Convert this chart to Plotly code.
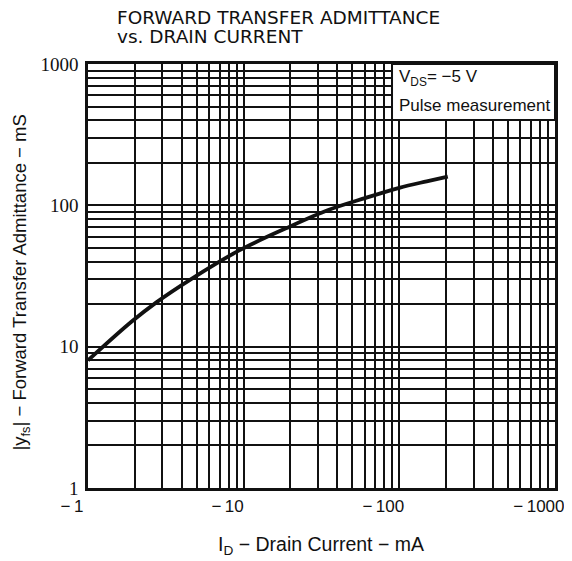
import plotly.graph_objects as go

# Drain current (mA) and forward transfer admittance |yfs| (mS)
drain_current_ma = [-1.0, -1.9, -2.75, -4.6, -9.3, -18.7, -35, -61, -100, -150, -205]
yfs_ms = [8.0, 15.0, 20.6, 30.1, 47.8, 68.8, 92.7, 113, 133, 148, 160]

decades = [1, 10, 100, 1000]
x_tick_labels = ["−\u20091", "−\u200910", "−\u2009100", "−\u20091000"]
y_tick_labels = ["1", "10", "100", "1000"]

# every 1..9 multiple inside each decade gets a gridline, labels only on decades
grid_vals = [d * k for d in decades[:-1] for k in range(1, 10)] + [1000]
x_text = [x_tick_labels[decades.index(v)] if v in decades else "" for v in grid_vals]
y_text = [y_tick_labels[decades.index(v)] if v in decades else "" for v in grid_vals]

INK = "#111111"
SANS = "Liberation Sans, Arial, sans-serif"

fig = go.Figure()
fig.add_trace(go.Scatter(
    x=[-v for v in drain_current_ma], y=yfs_ms, mode="lines",
    line={"color": INK, "width": 3.8, "shape": "spline"}, showlegend=False,
))

axis_common = dict(
    type="log", range=[0, 3.0005], tickmode="array", tickvals=grid_vals,
    showgrid=True, gridcolor=INK, gridwidth=1.6, zeroline=False,
    showline=True, linecolor=INK, linewidth=2.5, mirror=True, ticks="",
    automargin=False, ticklabeloverflow="allow",
)
# labels sit a little left of their gridlines, as in the original
fig.update_xaxes(
    **axis_common, ticktext=x_text, ticklabelstandoff=1, ticklabelshift=-16,
    tickfont={"family": SANS, "size": 17, "color": INK},
)
fig.update_yaxes(
    **axis_common, ticktext=y_text, ticklabelstandoff=3,
    tickfont={"family": "Liberation Serif, Times New Roman, serif", "size": 19, "color": INK},
)

# axis titles
fig.add_annotation(xref="paper", yref="paper", x=0.499, y=-0.136, xanchor="center", yanchor="middle",
                   text="I<sub>D</sub> − Drain Current − mA", showarrow=False,
                   font={"family": SANS, "size": 19.5, "color": INK})
fig.add_annotation(xref="paper", yref="paper", x=-0.143, y=0.485, xanchor="center", yanchor="middle",
                   text="|y<sub>fs</sub>| − Forward Transfer Admittance − mS", showarrow=False,
                   textangle=-90, font={"family": SANS, "size": 18.5, "color": INK})

# condition box in the top-right corner
fig.add_shape(type="rect", xref="paper", yref="paper", x0=0.651, x1=1.0, y0=0.868, y1=1.0,
              fillcolor="white", line={"color": INK, "width": 2}, layer="above")
fig.add_annotation(xref="paper", yref="paper", x=0.662, y=0.967, xanchor="left", yanchor="middle",
                   text="V<sub>DS</sub>= −5 V", showarrow=False,
                   font={"family": SANS, "size": 17, "color": INK})
fig.add_annotation(xref="paper", yref="paper", x=0.662, y=0.903, xanchor="left", yanchor="middle",
                   text="Pulse measurement", showarrow=False,
                   font={"family": SANS, "size": 17, "color": INK})

# chart title, two lines set tight like the original
fig.add_annotation(xref="paper", yref="paper", x=0.058, y=1.11, xanchor="left", yanchor="middle",
                   text="FORWARD TRANSFER ADMITTANCE", showarrow=False,
                   font={"family": "DejaVu Sans, sans-serif", "size": 18.5, "color": INK})
fig.add_annotation(xref="paper", yref="paper", x=0.058, y=1.066, xanchor="left", yanchor="middle",
                   text="vs. DRAIN CURRENT", showarrow=False,
                   font={"family": "DejaVu Sans, sans-serif", "size": 18.5, "color": INK})

# the page body adds an 8px margin, so the figure is 8px smaller than the window
fig.update_layout(
    width=564, height=553,
    margin={"l": 80, "r": 17, "t": 56, "b": 73},
    plot_bgcolor="white", paper_bgcolor="white",
)

fig.write_html("out.html")
